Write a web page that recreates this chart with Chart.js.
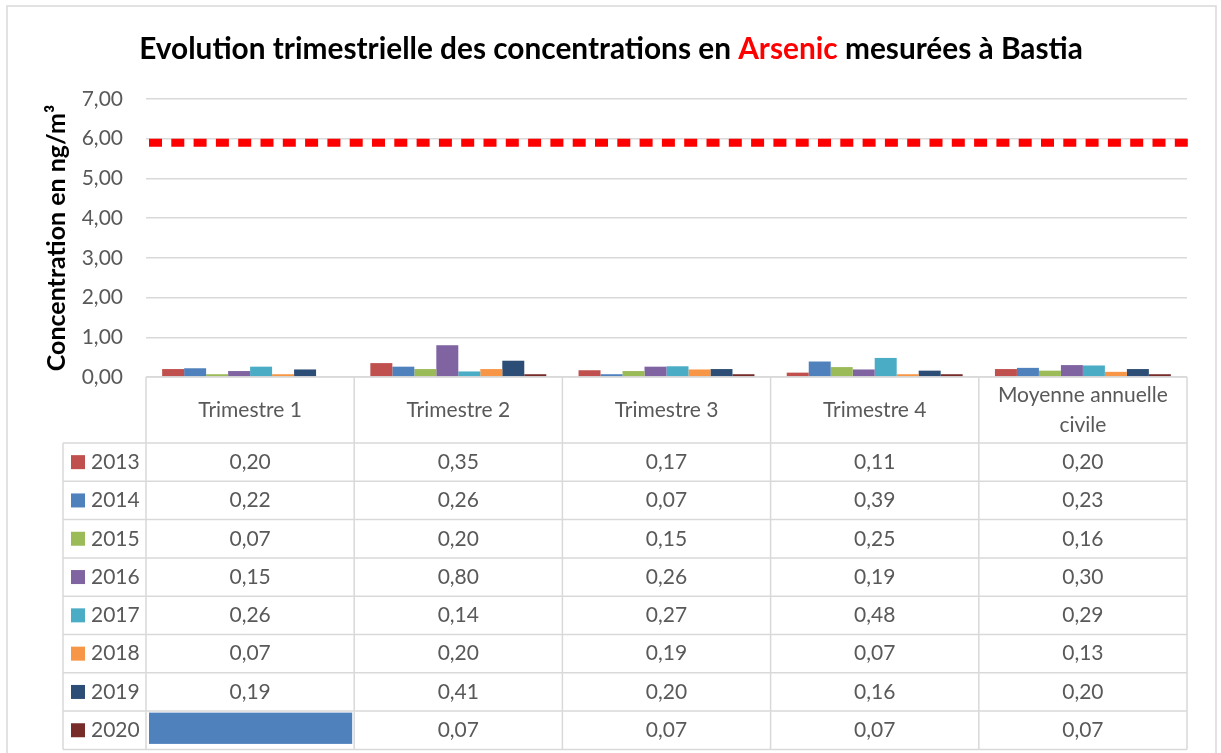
<!DOCTYPE html>
<html>
<head>
<meta charset="utf-8">
<script src="https://cdn.jsdelivr.net/npm/chart.js@4.4.1/dist/chart.umd.min.js"></script>
<style>
  body { margin: 0; background: #fff; }
  canvas { display: block; }
</style>
</head>
<body>
<canvas id="arsenicChart" width="1221" height="753"></canvas>
<script>
// données
const categories = ['Trimestre 1', 'Trimestre 2', 'Trimestre 3', 'Trimestre 4', 'Moyenne annuelle civile'];
const years = ['2013', '2014', '2015', '2016', '2017', '2018', '2019', '2020'];
const v2013 = [0.20, 0.35, 0.17, 0.11, 0.20];
const v2014 = [0.22, 0.26, 0.07, 0.39, 0.23];
const v2015 = [0.07, 0.20, 0.15, 0.25, 0.16];
const v2016 = [0.15, 0.80, 0.26, 0.19, 0.30];
const v2017 = [0.26, 0.14, 0.27, 0.48, 0.29];
const v2018 = [0.07, 0.20, 0.19, 0.07, 0.13];
const v2019 = [0.19, 0.41, 0.20, 0.16, 0.20];
const v2020 = [null, 0.07, 0.07, 0.07, 0.07];
const yTicks = [0, 1, 2, 3, 4, 5, 6, 7];
const limitValue = 5.9;   // trait rouge (valeur cible)

const seriesValues = [v2013, v2014, v2015, v2016, v2017, v2018, v2019, v2020];
const colors = ['#C0504D', '#4F81BD', '#9BBB59', '#8064A2', '#4BACC6', '#F79646', '#2C4D75', '#772C2A'];

const FONT = 'Lato, "Open Sans", sans-serif';
const GREY = '#595959';
const LINE = '#d9d9d9';

const fmt = v => v.toFixed(2).replace('.', ',');

function wrapText(ctx, text, maxW) {
    const words = text.split(' ');
    const lines = [];
    let cur = '';
    words.forEach(w => {
        const t = cur ? cur + ' ' + w : w;
        if (ctx.measureText(t).width > maxW && cur) { lines.push(cur); cur = w; }
        else cur = t;
    });
    lines.push(cur);
    return lines;
}

// cadre + titre
const framePlugin = {
    id: 'frame',
    beforeDraw(chart) {
        const ctx = chart.ctx;
        ctx.save();
        ctx.fillStyle = '#fff';
        ctx.fillRect(0, 0, chart.width, chart.height);
        ctx.strokeStyle = LINE;
        ctx.lineWidth = 1.5;
        ctx.strokeRect(7, 6, 1209, 780);
        ctx.restore();
    },
    afterDraw(chart) {
        const ctx = chart.ctx;
        const parts = [
            ['Evolution trimestrielle des concentrations en ', '#000'],
            ['Arsenic', '#FF0000'],
            [' mesurées à Bastia', '#000']
        ];
        ctx.save();
        ctx.font = 'bold 24px ' + FONT;
        let w = parts.reduce((s, p) => s + ctx.measureText(p[0]).width, 0);
        const size = 24 * 943 / w;
        ctx.font = 'bold ' + size.toFixed(1) + 'px ' + FONT;
        w = parts.reduce((s, p) => s + ctx.measureText(p[0]).width, 0);
        let x = 611 - w / 2;
        ctx.textBaseline = 'middle';
        parts.forEach(p => {
            ctx.fillStyle = p[1];
            ctx.fillText(p[0], x, 49);
            x += ctx.measureText(p[0]).width;
        });
        ctx.restore();
    }
};

// trait de la valeur limite
const limitPlugin = {
    id: 'limitLine',
    afterDatasetsDraw(chart) {
        const {ctx, chartArea, scales} = chart;
        const y = scales.y.getPixelForValue(limitValue);
        ctx.save();
        ctx.strokeStyle = '#FF0000';
        ctx.lineWidth = 8;
        ctx.setLineDash([13, 9.3]);
        ctx.beginPath();
        ctx.moveTo(chartArea.left + 3, y);
        ctx.lineTo(chartArea.right + 10, y);
        ctx.stroke();
        ctx.restore();
    }
};

// table de données sous le graphique
const tablePlugin = {
    id: 'dataTable',
    afterDraw(chart) {
        const {ctx, chartArea, scales} = chart;
        const xs = scales.x;
        const top = chartArea.bottom;
        const headH = 66, rowH = 38.3, keyLeft = 63;
        const colW = (chartArea.right - chartArea.left) / categories.length;
        const headBottom = top + headH;
        const bottom = headBottom + rowH * years.length;
        const edges = categories.map((c, i) => xs.getPixelForValue(i) - colW / 2);
        edges.push(chartArea.right);

        ctx.save();
        // cellule vide 2020 / Trimestre 1
        seriesValues.forEach((vals, r) => {
            vals.forEach((v, c) => {
                if (v === null) {
                    ctx.fillStyle = '#4F81BD';
                    const y0 = headBottom + r * rowH;
                    ctx.fillRect(edges[c] + 3, y0 + 1.5, colW - 5, rowH - 7);
                }
            });
        });

        ctx.strokeStyle = LINE;
        ctx.lineWidth = 1.5;
        ctx.beginPath();
        ctx.moveTo(chartArea.left, top); ctx.lineTo(chartArea.right, top);
        for (let r = 0; r <= years.length; r++) {
            const y = headBottom + r * rowH;
            ctx.moveTo(keyLeft, y); ctx.lineTo(chartArea.right, y);
        }
        ctx.moveTo(keyLeft, headBottom); ctx.lineTo(keyLeft, bottom);
        edges.forEach(x => { ctx.moveTo(x, top); ctx.lineTo(x, bottom); });
        ctx.stroke();

        ctx.font = '21px ' + FONT;
        ctx.fillStyle = GREY;
        ctx.textAlign = 'center';
        ctx.textBaseline = 'middle';
        categories.forEach((c, i) => {
            const cx = xs.getPixelForValue(i);
            const lines = wrapText(ctx, c, colW - 24);
            const lh = 30;
            const y0 = top + headH / 2 - (lines.length - 1) * lh / 2;
            lines.forEach((l, k) => ctx.fillText(l, cx, y0 + k * lh));
        });

        years.forEach((yr, r) => {
            const cy = headBottom + r * rowH + rowH / 2;
            ctx.fillStyle = colors[r];
            ctx.fillRect(keyLeft + 8, cy - 7, 14, 14);
            ctx.fillStyle = GREY;
            ctx.textAlign = 'left';
            ctx.fillText(yr, keyLeft + 28, cy);
            ctx.textAlign = 'center';
            seriesValues[r].forEach((v, c) => {
                if (v !== null) ctx.fillText(fmt(v), xs.getPixelForValue(c), cy);
            });
        });
        ctx.restore();
    }
};

new Chart(document.getElementById('arsenicChart'), {
    type: 'bar',
    data: {
        labels: categories,
        datasets: years.map((yr, i) => ({
            label: yr,
            data: seriesValues[i],
            backgroundColor: colors[i],
            borderWidth: 0,
            categoryPercentage: 0.845,
            barPercentage: 1
        }))
    },
    options: {
        responsive: false,
        animation: false,
        layout: { padding: { left: 40, right: 34, top: 99, bottom: 0 } },
        plugins: {
            legend: { display: false },
            title: { display: false },
            tooltip: { enabled: false }
        },
        scales: {
            x: {
                ticks: { display: false },
                grid: { display: false },
                border: { display: false },
                afterFit: s => { s.height = 376; }
            },
            y: {
                min: yTicks[0],
                max: yTicks[yTicks.length - 1],
                afterBuildTicks: s => { s.ticks = yTicks.map(v => ({ value: v })); },
                afterFit: s => { s.width = 106; },
                ticks: {
                    padding: 23,
                    color: GREY,
                    font: { family: FONT, size: 21 },
                    callback: v => fmt(v)
                },
                grid: { color: LINE, lineWidth: 1.5, drawTicks: false },
                border: { display: false },
                title: {
                    display: true,
                    text: 'Concentration en ng/m³',
                    color: '#000',
                    padding: 2,
                    font: { family: FONT, size: 25, weight: 'bold' }
                }
            }
        }
    },
    plugins: [framePlugin, limitPlugin, tablePlugin]
});
</script>
</body>
</html>
